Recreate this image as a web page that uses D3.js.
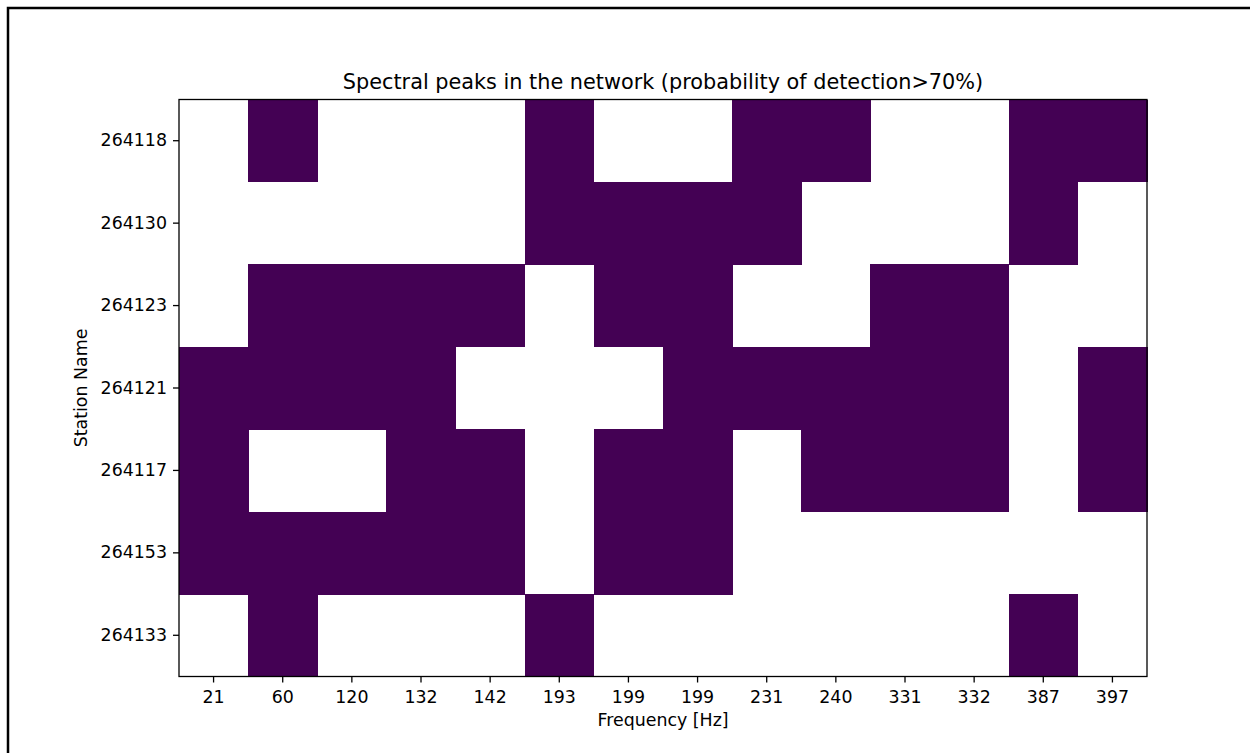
<!DOCTYPE html>
<html>
<head>
<meta charset="utf-8">
<script src="https://cdn.jsdelivr.net/npm/d3@7"></script>
<style>
  body { margin: 0; background: #fff; }
  text { font-family: "DejaVu Sans", sans-serif; fill: #000; }
</style>
</head>
<body>
<div id="chart"></div>
<script>
// data
var frequencies = ['21', '60', '120', '132', '142', '193', '199', '199', '231', '240', '331', '332', '387', '397'];
var stations = ['264118', '264130', '264123', '264121', '264117', '264153', '264133'];
// 1 = peak detected (>70%), 0 = masked / nothing
var detections = [
  [0, 1, 0, 0, 0, 1, 0, 0, 1, 1, 0, 0, 1, 1],
  [0, 0, 0, 0, 0, 1, 1, 1, 1, 0, 0, 0, 1, 0],
  [0, 1, 1, 1, 1, 0, 1, 1, 0, 0, 1, 1, 0, 0],
  [1, 1, 1, 1, 0, 0, 0, 1, 1, 1, 1, 1, 0, 1],
  [1, 0, 0, 1, 1, 0, 1, 1, 0, 1, 1, 1, 0, 1],
  [1, 1, 1, 1, 1, 0, 1, 1, 0, 0, 0, 0, 0, 0],
  [0, 1, 0, 0, 0, 1, 0, 0, 0, 0, 0, 0, 1, 0]
];

var width = 1250;
var height = 753;
var plotLeft = 179, plotRight = 1147, plotTop = 99.5, plotBottom = 676.5;

var svg = d3.select('div#chart')
    .append('svg')
    .attr('width', width)
    .attr('height', height);

// outer frame of the figure
svg.append('rect')
    .attr('x', 8)
    .attr('y', 8)
    .attr('width', 1400)
    .attr('height', 1000)
    .attr('fill', 'none')
    .attr('stroke', '#000')
    .attr('stroke-width', 2.5);

var x = d3.scaleBand()
    .domain(d3.range(frequencies.length))
    .range([plotLeft, plotRight]);

var y = d3.scaleBand()
    .domain(d3.range(stations.length))
    .range([plotTop, plotBottom]);

var color = d3.scaleOrdinal()
    .domain([1])
    .range([d3.interpolateViridis(0)]);

// cells
var cells = [];
detections.forEach(function(row, i) {
    row.forEach(function(v, j) {
        if (v === 1) cells.push({row: i, col: j, value: v});
    });
});

svg.append('g')
    .selectAll('rect')
    .data(cells)
    .enter()
    .append('rect')
    .attr('x', d => x(d.col))
    .attr('y', d => y(d.row))
    .attr('width', x.bandwidth() + 0.5)
    .attr('height', y.bandwidth() + 0.5)
    .attr('fill', d => color(d.value))
    .attr('shape-rendering', 'crispEdges');

// axes
var xAxis = svg.append('g')
    .attr('transform', 'translate(0,' + plotBottom + ')')
    .call(d3.axisBottom(x).tickFormat(i => frequencies[i]).tickSizeOuter(0).tickSize(6).tickPadding(8));

var yAxis = svg.append('g')
    .attr('transform', 'translate(' + plotLeft + ',0)')
    .call(d3.axisLeft(y).tickFormat(i => stations[i]).tickSizeOuter(0).tickSize(6).tickPadding(6));

[xAxis, yAxis].forEach(function(a) {
    a.select('.domain').remove();
    a.selectAll('.tick line').attr('stroke', '#000').attr('stroke-width', 1.3);
    a.selectAll('.tick text')
        .attr('fill', '#000')
        .style('font-family', '"DejaVu Sans", sans-serif')
        .style('font-size', '17.4px');
});
xAxis.selectAll('.tick text').attr('dy', null).attr('y', 26);

// spines
svg.append('rect')
    .attr('x', plotLeft)
    .attr('y', plotTop)
    .attr('width', plotRight - plotLeft)
    .attr('height', plotBottom - plotTop)
    .attr('fill', 'none')
    .attr('stroke', '#000')
    .attr('stroke-width', 1.3);

// title and labels
svg.append('text')
    .attr('x', (plotLeft + plotRight) / 2)
    .attr('y', 88.5)
    .style('text-anchor', 'middle')
    .style('font-size', '20.8px')
    .text('Spectral peaks in the network (probability of detection>70%)');

svg.append('text')
    .attr('x', (plotLeft + plotRight) / 2)
    .attr('y', 725.5)
    .style('text-anchor', 'middle')
    .style('font-size', '17.4px')
    .text('Frequency [Hz]');

svg.append('text')
    .attr('transform', 'translate(87,' + (plotTop + plotBottom) / 2 + ') rotate(-90)')
    .style('text-anchor', 'middle')
    .style('font-size', '17.4px')
    .text('Station Name');
</script>
</body>
</html>
